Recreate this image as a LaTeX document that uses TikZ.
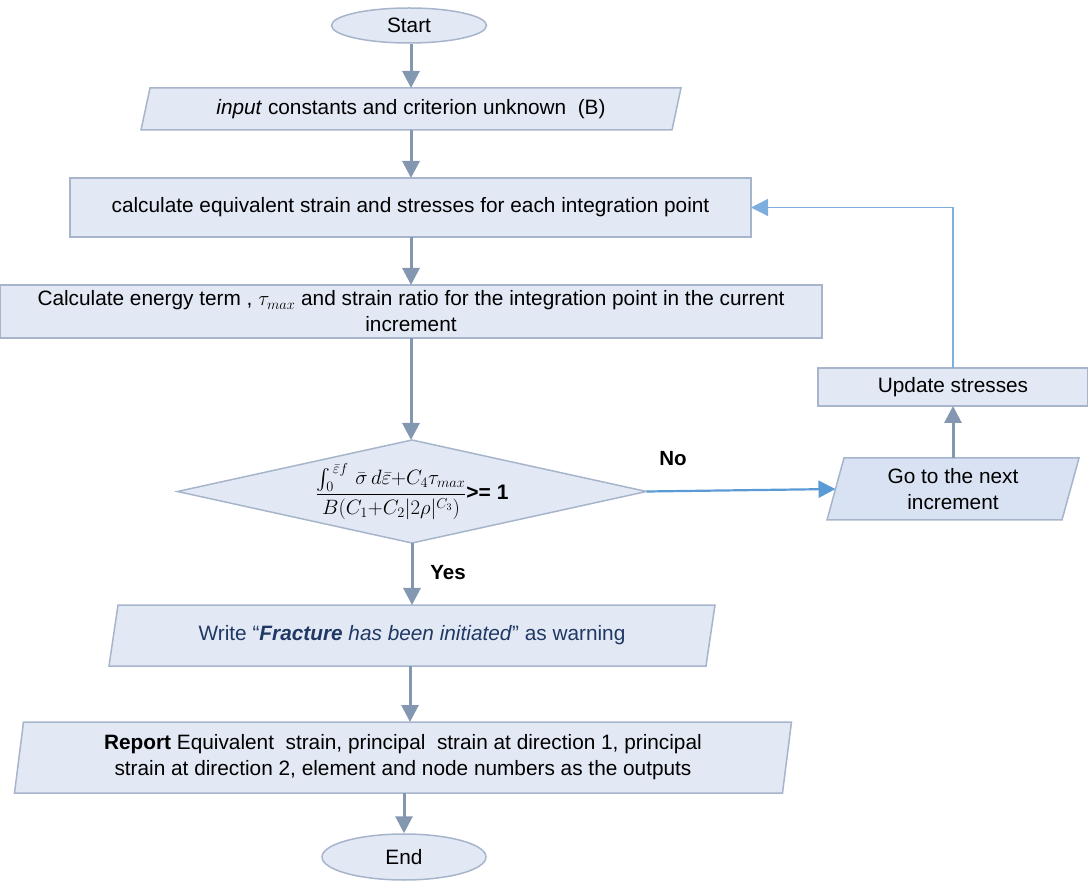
\documentclass[tikz,border=0pt]{standalone}
\usepackage{amsmath}
\usepackage{fontspec}
\setmainfont{Liberation Sans}
\usetikzlibrary{shapes.geometric,arrows.meta,backgrounds}
\definecolor{boxfill}{HTML}{E3E9F4}
\definecolor{boxdraw}{HTML}{A7B5CC}
\definecolor{gofill}{HTML}{D9E2F3}
\definecolor{arrgray}{HTML}{8497B0}
\definecolor{arrblue}{HTML}{5B9BD5}
\definecolor{navy}{HTML}{1F3864}
\tikzset{
  box/.style={draw=boxdraw, fill=boxfill, line width=1.5pt},
  ghost/.style={rectangle, inner sep=0pt, outer sep=0pt, align=center},
  garrow/.style={draw=arrgray, line width=3pt, -{Triangle[length=17pt,width=17pt]}},
  barrow/.style={draw=arrblue, line width=2.2pt, -{Triangle[length=17pt,width=17pt]}},
  fback/.style={draw=arrblue!80, line width=1.3pt, -{Triangle[length=17pt,width=17pt]}},
  lbl/.style={font=\fontsize{20.5}{24}\selectfont\bfseries}
}
\begin{document}
\begin{tikzpicture}[x=1pt,y=-1pt,font=\fontsize{20.8}{26}\selectfont]
\useasboundingbox (0,0) rectangle (1088,882);

\node[box, ellipse, inner sep=0pt, minimum width=155pt, minimum height=35pt] (start) at (409,25.5) {Start};
\node[ghost, minimum width=531pt, minimum height=42pt] (input) at (411,109) {\textit{input} constants and criterion unknown~ (B)};
\node[box, ghost, minimum width=681pt, minimum height=59pt] (calc) at (410.5,207.5) {calculate equivalent strain and stresses for each integration point};
\node[box, ghost, minimum width=822pt, minimum height=53pt] (energy) at (411,311.5) {Calculate energy term , $\tau_{max}$ and strain ratio for the integration point in the current\\increment};
\node[ghost, minimum width=469pt, minimum height=103pt, font=\fontsize{20}{24}\selectfont] (dec) at (412,491.5) {$\dfrac{\int_{0}^{\,\bar{\varepsilon}f}\,\bar{\sigma}\,d\bar{\varepsilon}{+}C_4\tau_{max}}{B(C_1{+}C_2|2\rho|^{C_3})}$\textbf{\fontsize{21}{24}\selectfont >= 1}};
\node[ghost, minimum width=597pt, minimum height=61pt, text=navy] (write) at (412,635.5) {Write “\textbf{\textit{Fracture}} \textit{has been initiated}” as warning};
\node[ghost, minimum width=768pt, minimum height=71pt] (report) at (403,757.5) {\textbf{Report} Equivalent~ strain, principal~ strain at direction 1, principal\\strain at direction 2, element and node numbers as the outputs};
\node[box, ellipse, inner sep=0pt, minimum width=164pt, minimum height=46pt] (end) at (404,857) {End};
\node[ghost, minimum width=235pt, minimum height=62pt] (go) at (953,489) {Go to the next\\increment};
\node[box, ghost, minimum width=270pt, minimum height=38pt] (upd) at (953,387) {Update stresses};
\node[lbl] (no) at (673,459) {No};
\node[lbl] (yes) at (448,573) {Yes};

\begin{scope}[on background layer]
\draw[box] ([xshift=4.5pt]input.north west) -- ([xshift=4.5pt]input.north east) -- ([xshift=-4.5pt]input.south east) -- ([xshift=-4.5pt]input.south west) -- cycle;
\draw[box] (dec.north) -- (dec.east) -- (dec.south) -- (dec.west) -- cycle;
\draw[box] ([xshift=4.5pt]write.north west) -- ([xshift=4.5pt]write.north east) -- ([xshift=-4.5pt]write.south east) -- ([xshift=-4.5pt]write.south west) -- cycle;
\draw[box] ([xshift=4.5pt]report.north west) -- ([xshift=4.5pt]report.north east) -- ([xshift=-4.5pt]report.south east) -- ([xshift=-4.5pt]report.south west) -- cycle;
\draw[box, fill=gofill] ([xshift=8.5pt]go.north west) -- ([xshift=8.5pt]go.north east) -- ([xshift=-8.5pt]go.south east) -- ([xshift=-8.5pt]go.south west) -- cycle;
\end{scope}

\draw[garrow] (start.south -| input) -- (input.north);
\draw[garrow] (input.south) -- (input.south |- calc.north);
\draw[garrow] (calc.south -| energy) -- (energy.north);
\draw[garrow] (energy.south) -- (energy.south |- dec.north);
\draw[garrow] (dec.south) -- (dec.south |- write.north);
\draw[garrow] (write.south -| 410,0) -- (410,0 |- report.north);
\draw[garrow] (report.south -| end) -- (end.north);
\draw[barrow] (dec.east) -- (go.west);
\draw[garrow] (go.north) -- (upd.south);
\draw[fback] (upd.north) |- (calc.east);
\end{tikzpicture}
\end{document}
